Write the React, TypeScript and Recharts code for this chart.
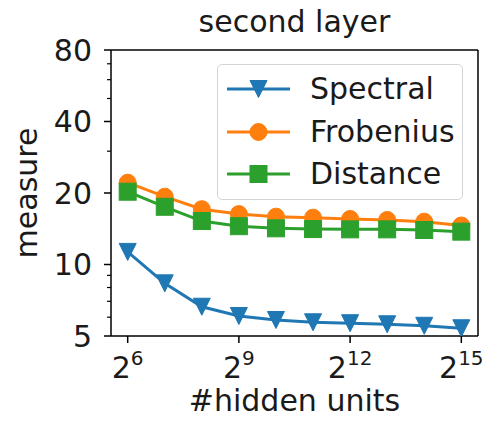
import React from 'react';
import { LineChart, Line, XAxis, YAxis } from 'recharts';

const hiddenUnits = [64, 128, 256, 512, 1024, 2048, 4096, 8192, 16384, 32768];
const spectral = [11.3, 8.33, 6.64, 6.07, 5.84, 5.71, 5.66, 5.6, 5.52, 5.39];
const frobenius = [22.1, 19.3, 17.1, 16.3, 15.9, 15.75, 15.55, 15.4, 15.15, 14.6];
const distance = [20.25, 17.5, 15.24, 14.5, 14.2, 14.1, 14.06, 14.06, 13.97, 13.75];
const xTicks = [64, 512, 4096, 32768];
const yTicks = [5, 10, 20, 40, 80];
const yMinorTicks = [6, 7, 8, 9, 30, 50, 60, 70];
const xDomain = [Math.pow(2, 5.55), Math.pow(2, 15.45)];
const yDomain = [5, 80];

const FONT = 'DejaVu Sans';
const Y_TICK_SIZE = 7;
const Y_TICK_MARGIN = 12;

const data = hiddenUnits.map((u, i) => ({
  units: u,
  Spectral: spectral[i],
  Frobenius: frobenius[i],
  Distance: distance[i],
}));

const allYTicks = [...yTicks, ...yMinorTicks].sort((a, b) => a - b);

type MarkerKind = 'tri' | 'circle' | 'square';

const series: { key: string; color: string; marker: MarkerKind }[] = [
  { key: 'Spectral', color: '#1f77b4', marker: 'tri' },
  { key: 'Frobenius', color: '#ff7f0e', marker: 'circle' },
  { key: 'Distance', color: '#2ca02c', marker: 'square' },
];

function Marker({ kind, cx, cy, color }: { kind: MarkerKind; cx: number; cy: number; color: string }) {
  const h = 8.5;
  if (kind === 'tri') {
    return (
      <polygon
        points={`${cx - h},${cy - h} ${cx + h},${cy - h} ${cx},${cy + h}`}
        fill={color}
        stroke={color}
        strokeWidth={1}
      />
    );
  }
  if (kind === 'circle') {
    return <circle cx={cx} cy={cy} r={h} fill={color} stroke={color} strokeWidth={1} />;
  }
  return <rect x={cx - h} y={cy - h} width={2 * h} height={2 * h} fill={color} stroke={color} strokeWidth={1} />;
}

function XTick(props: any) {
  const { x, y, payload } = props;
  const exp = Math.round(Math.log2(payload.value));
  return (
    <text x={x} y={y} dy={33} textAnchor="middle" fontFamily={FONT} fontSize={30} fill="#1a1a1a">
      <tspan>2</tspan>
      <tspan dy={-13} fontSize={20}>
        {exp}
      </tspan>
    </text>
  );
}

function YTick(props: any) {
  const { x, y, payload } = props;
  const value = payload.value;
  const isMajor = yTicks.includes(value);
  const axisX = x + Y_TICK_SIZE + Y_TICK_MARGIN;
  const len = isMajor ? Y_TICK_SIZE : 4;
  return (
    <g>
      <line x1={axisX - len} x2={axisX} y1={y} y2={y} stroke="#000" strokeWidth={isMajor ? 1.5 : 1.2} />
      {isMajor && (
        <text x={x} y={y} dy="0.355em" textAnchor="end" fontFamily={FONT} fontSize={30} fill="#1a1a1a">
          {value}
        </text>
      )}
    </g>
  );
}

function LegendBox() {
  return (
    <div
      style={{
        position: 'absolute',
        left: 217,
        top: 64,
        border: '1px solid #d4d4d4',
        borderRadius: 5,
        background: 'rgba(255,255,255,0.85)',
        width: 246,
        height: 136,
        boxSizing: 'border-box',
        paddingTop: 3,
      }}
    >
      {series.map((s) => (
        <div key={s.key} style={{ display: 'flex', alignItems: 'center', height: 42.5 }}>
          <svg width={92} height={40} style={{ display: 'block' }}>
            <line x1={9} x2={72} y1={20} y2={20} stroke={s.color} strokeWidth={3} />
            <Marker kind={s.marker} cx={40.5} cy={20} color={s.color} />
          </svg>
          <span style={{ fontFamily: FONT, fontSize: 30, color: '#1a1a1a', lineHeight: 1 }}>{s.key}</span>
        </div>
      ))}
    </div>
  );
}

export default function App() {
  return (
    <div style={{ position: 'absolute', left: 0, top: 0, width: 486, height: 423, background: '#fff' }}>
      <div
        style={{
          position: 'absolute',
          left: 111,
          width: 367,
          top: 4,
          textAlign: 'center',
          fontFamily: FONT,
          fontSize: 30,
          color: '#1a1a1a',
          lineHeight: 'normal',
        }}
      >
        second layer
      </div>
      <LineChart width={486} height={423} data={data} margin={{ top: 49, right: 7, bottom: 27, left: 0 }}>
        <XAxis
          dataKey="units"
          type="number"
          scale="log"
          domain={xDomain}
          allowDataOverflow
          ticks={xTicks}
          interval={0}
          height={60}
          tickSize={7}
          tickLine={{ stroke: '#000', strokeWidth: 1.5 }}
          axisLine={{ stroke: '#000', strokeWidth: 1.5 }}
          tick={<XTick />}
          label={(p: any) => {
            const vb = p.viewBox;
            return (
              <text
                x={vb.x + vb.width / 2}
                y={vb.y + 75}
                textAnchor="middle"
                fontFamily={FONT}
                fontSize={30}
                fill="#1a1a1a"
              >
                #hidden units
              </text>
            );
          }}
        />
        <XAxis
          xAxisId="top"
          orientation="top"
          dataKey="units"
          type="number"
          scale="log"
          domain={xDomain}
          allowDataOverflow
          height={1}
          tick={false}
          tickLine={false}
          axisLine={{ stroke: '#000', strokeWidth: 1.5 }}
        />
        <YAxis
          type="number"
          scale="log"
          domain={yDomain}
          allowDataOverflow
          ticks={allYTicks}
          interval={0}
          width={111}
          tickSize={Y_TICK_SIZE}
          tickMargin={Y_TICK_MARGIN}
          tickLine={false}
          axisLine={{ stroke: '#000', strokeWidth: 1.5 }}
          tick={<YTick />}
          label={(p: any) => {
            const vb = p.viewBox;
            const cx = 37;
            const cy = vb.y + vb.height / 2;
            return (
              <text
                x={cx}
                y={cy}
                transform={`rotate(-90, ${cx}, ${cy})`}
                textAnchor="middle"
                fontFamily={FONT}
                fontSize={30}
                fill="#1a1a1a"
              >
                measure
              </text>
            );
          }}
        />
        <YAxis
          yAxisId="right"
          orientation="right"
          type="number"
          scale="log"
          domain={yDomain}
          allowDataOverflow
          width={1}
          tick={false}
          tickLine={false}
          axisLine={{ stroke: '#000', strokeWidth: 1.5 }}
        />
        <Line
          dataKey="Spectral"
          xAxisId="top"
          yAxisId="right"
          stroke="none"
          dot={false}
          activeDot={false}
          legendType="none"
          isAnimationActive={false}
        />
        {series.map((s) => (
          <Line
            key={s.key}
            dataKey={s.key}
            type="linear"
            stroke={s.color}
            strokeWidth={3}
            isAnimationActive={false}
            dot={(p: any) => <Marker key={`${s.key}-${p.index}`} kind={s.marker} cx={p.cx} cy={p.cy} color={s.color} />}
            activeDot={false}
          />
        ))}
      </LineChart>
      <LegendBox />
    </div>
  );
}
